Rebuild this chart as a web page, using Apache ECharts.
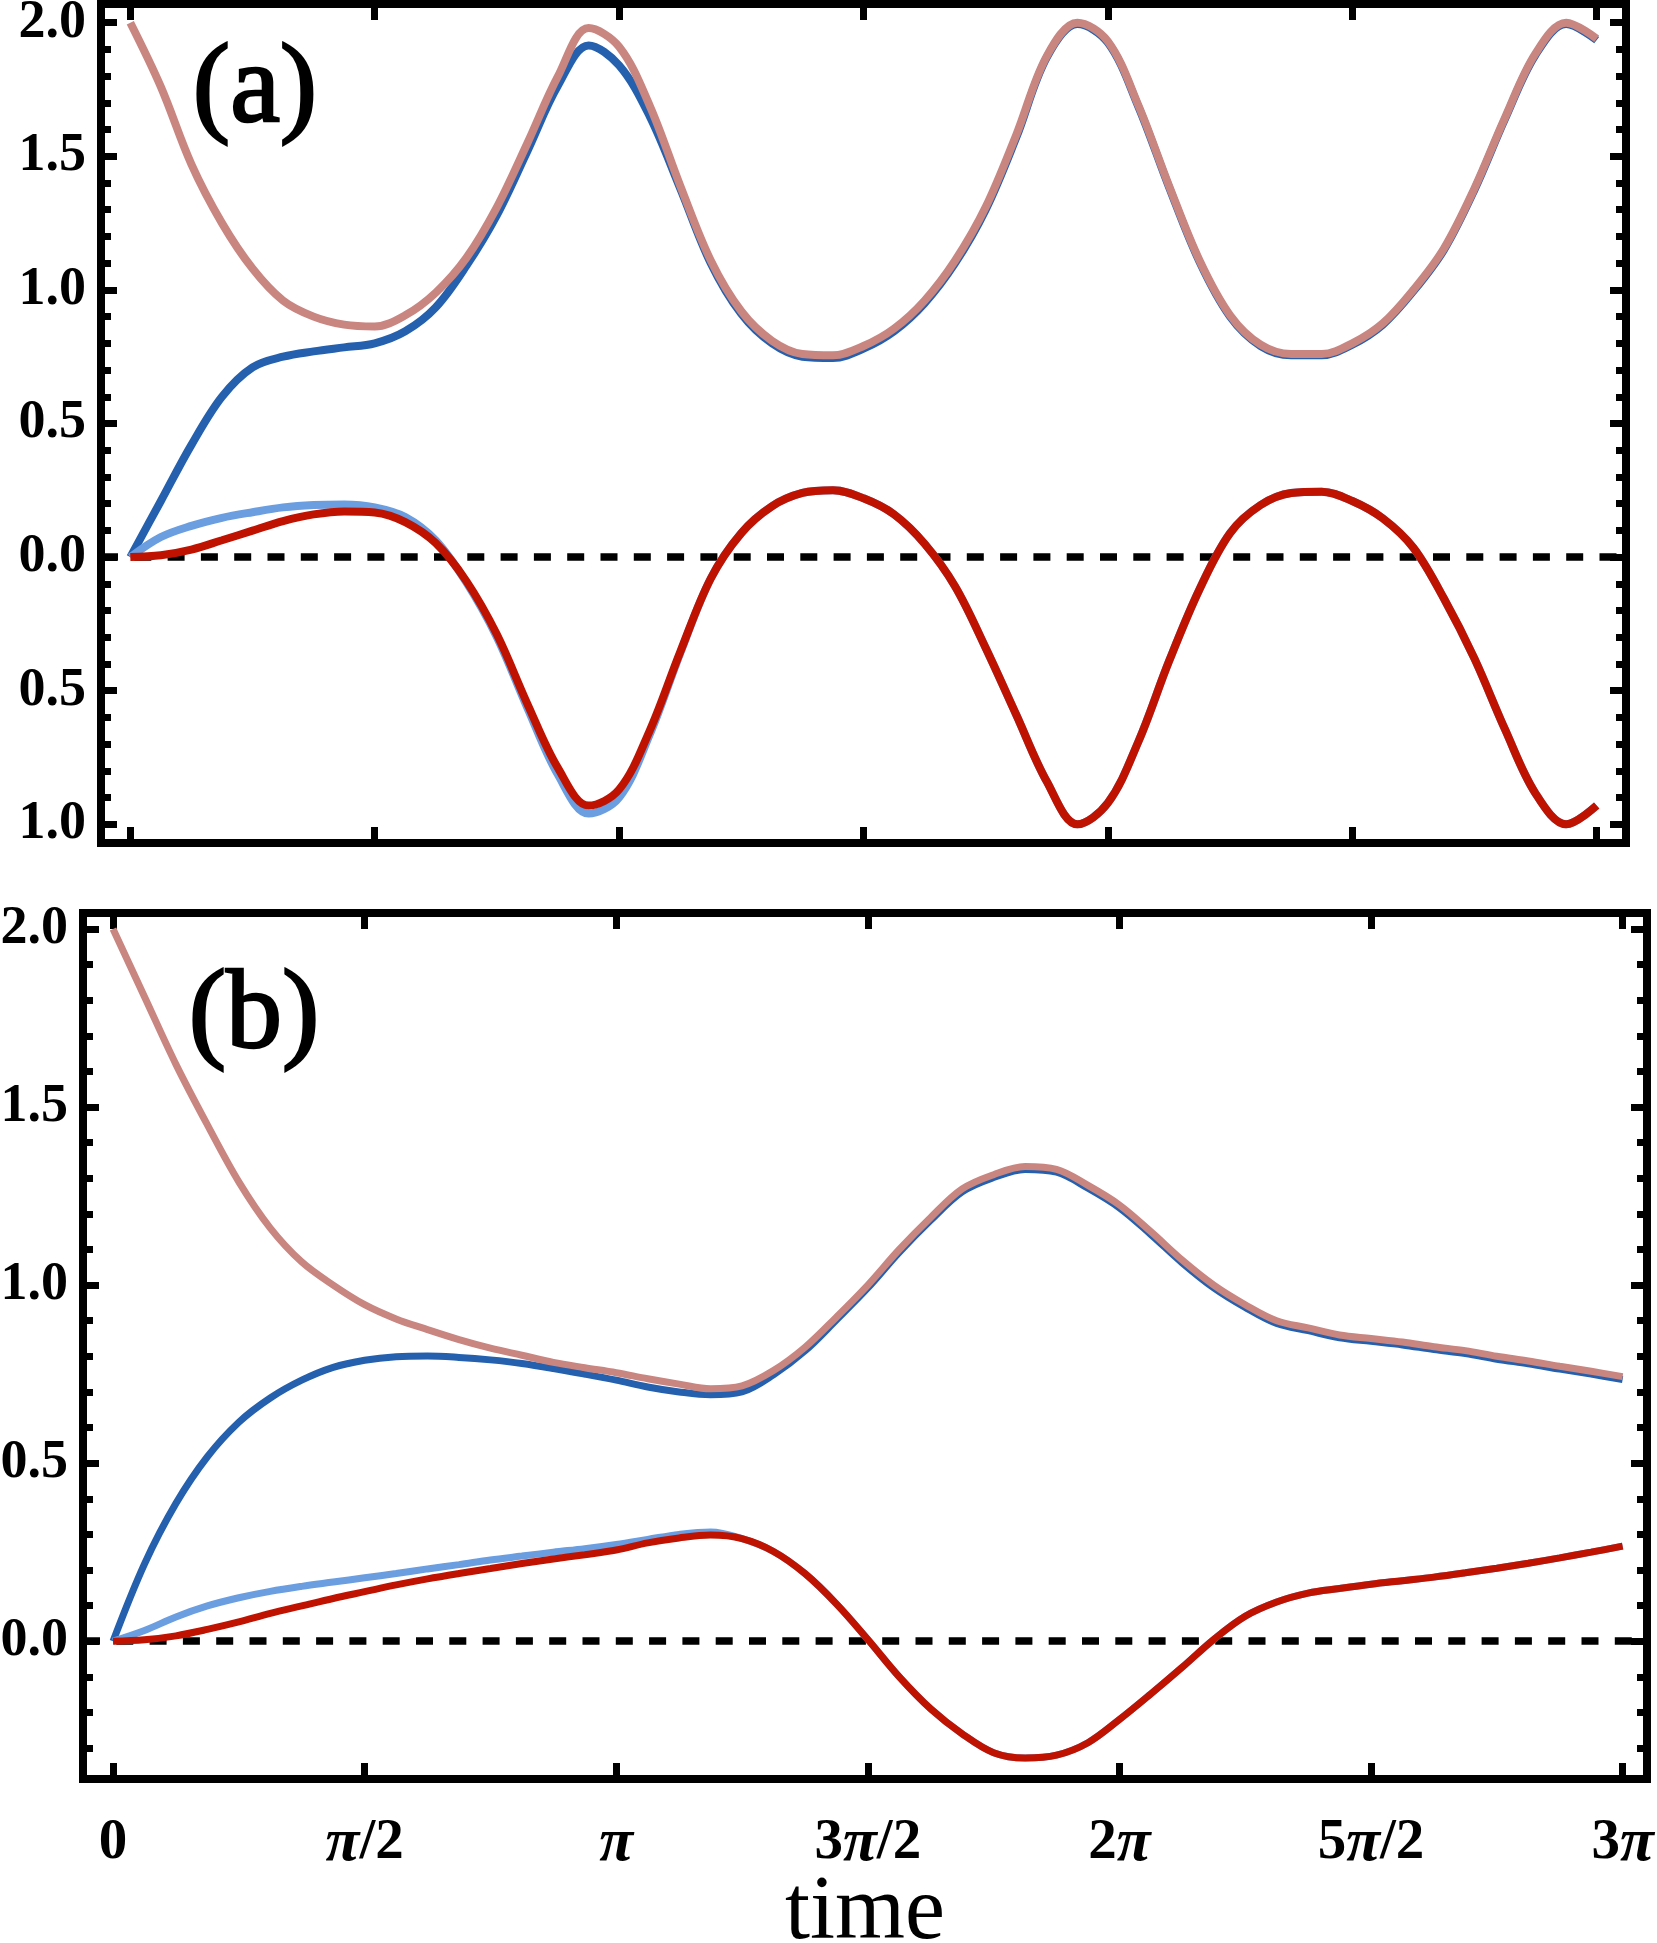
<!DOCTYPE html>
<html>
<head>
<meta charset="utf-8">
<title>time evolution</title>
<script src="https://cdn.jsdelivr.net/npm/echarts@6.0.0/dist/echarts.min.js"></script>
<style>
html, body { margin: 0; padding: 0; background: #fff; }
#main { width: 1657px; height: 1943px; }
</style>
</head>
<body>
<div id="main"></div>
<script>
// curves are sampled every pi/16 from 0 to 3pi (49 points)
var step = Math.PI / 16;

var xTickValues = [0, Math.PI / 2, Math.PI, 3 * Math.PI / 2, 2 * Math.PI, 5 * Math.PI / 2, 3 * Math.PI];
var xTickLabels = ['0', 'π/2', 'π', '3π/2', '2π', '5π/2', '3π'];

var yTicksA = [-1, -0.5, 0, 0.5, 1, 1.5, 2];
var yMinorA = [-1, -0.9, -0.8, -0.7, -0.6, -0.5, -0.4, -0.3, -0.2, -0.1, 0, 0.1, 0.2, 0.3, 0.4, 0.5,
    0.6, 0.7, 0.8, 0.9, 1, 1.1, 1.2, 1.3, 1.4, 1.5, 1.6, 1.7, 1.8, 1.9, 2];
var yTicksB = [0, 0.5, 1, 1.5, 2];
var yMinorB = [-0.3, -0.2, -0.1, 0, 0.1, 0.2, 0.3, 0.4, 0.5, 0.6, 0.7, 0.8, 0.9, 1, 1.1, 1.2,
    1.3, 1.4, 1.5, 1.6, 1.7, 1.8, 1.9, 2];

// panel (a)
var pinkA = [2.00, 1.76, 1.47, 1.25, 1.08, 0.96, 0.90, 0.87, 0.863, 0.905,
    0.99, 1.12, 1.31, 1.55, 1.80, 1.98, 1.91, 1.69, 1.39, 1.11,
    0.92, 0.81, 0.76, 0.755, 0.79, 0.855, 0.96, 1.11, 1.31, 1.58,
    1.875, 2.00, 1.93, 1.69, 1.39, 1.11, 0.905, 0.795, 0.76, 0.76,
    0.80, 0.875, 1.00, 1.155, 1.38, 1.645, 1.885, 2.00, 1.94];
var blueA = [0, 0.21, 0.42, 0.60, 0.71, 0.75, 0.77, 0.785, 0.80, 0.845,
    0.935, 1.09, 1.28, 1.52, 1.765, 1.915, 1.84, 1.65, 1.38, 1.10,
    0.91, 0.80, 0.75, 0.745, 0.78, 0.845, 0.95, 1.10, 1.30, 1.57,
    1.87, 1.995, 1.925, 1.685, 1.385, 1.105, 0.90, 0.79, 0.755, 0.755,
    0.795, 0.87, 0.995, 1.15, 1.375, 1.64, 1.88, 1.995, 1.935];
var lightA = [0, 0.075, 0.117, 0.147, 0.168, 0.186, 0.195, 0.197, 0.186, 0.15,
    0.062, -0.095, -0.30, -0.565, -0.815, -0.96, -0.90, -0.665, -0.36, -0.08,
    0.09, 0.19, 0.24, 0.25, 0.22, 0.16, 0.05, -0.11, -0.34, -0.59,
    -0.84, -1.00, -0.92, -0.69, -0.39, -0.12, 0.09, 0.195, 0.24, 0.245,
    0.21, 0.145, 0.035, -0.155, -0.38, -0.645, -0.885, -1.00, -0.93];
var redA = [0, 0.007, 0.028, 0.063, 0.099, 0.135, 0.16, 0.171, 0.167, 0.131,
    0.052, -0.09, -0.29, -0.55, -0.79, -0.93, -0.87, -0.65, -0.355, -0.08,
    0.09, 0.19, 0.24, 0.25, 0.22, 0.16, 0.05, -0.11, -0.34, -0.59,
    -0.84, -1.00, -0.92, -0.69, -0.39, -0.12, 0.09, 0.195, 0.24, 0.245,
    0.21, 0.145, 0.035, -0.155, -0.38, -0.645, -0.885, -1.00, -0.93];

// panel (b)
var pinkB = [2.00, 1.81, 1.62, 1.45, 1.29, 1.16, 1.065, 1.00, 0.945, 0.905,
    0.875, 0.847, 0.823, 0.803, 0.783, 0.768, 0.754, 0.737, 0.722, 0.709,
    0.717, 0.76, 0.825, 0.91, 1.00, 1.10, 1.19, 1.27, 1.31, 1.333,
    1.325, 1.28, 1.225, 1.15, 1.07, 1.00, 0.945, 0.90, 0.88, 0.86,
    0.85, 0.84, 0.827, 0.816, 0.80, 0.787, 0.772, 0.758, 0.743];
var blueB = [0, 0.217, 0.387, 0.518, 0.615, 0.683, 0.733, 0.769, 0.789, 0.799,
    0.801, 0.797, 0.79, 0.78, 0.766, 0.75, 0.733, 0.714, 0.70, 0.692,
    0.70, 0.748, 0.815, 0.902, 0.992, 1.092, 1.182, 1.262, 1.302, 1.325,
    1.317, 1.272, 1.217, 1.142, 1.062, 0.992, 0.937, 0.892, 0.872, 0.852,
    0.842, 0.832, 0.819, 0.808, 0.792, 0.779, 0.764, 0.75, 0.735];
var lightB = [0, 0.03, 0.068, 0.099, 0.122, 0.14, 0.154, 0.166, 0.178, 0.19,
    0.203, 0.215, 0.228, 0.239, 0.25, 0.26, 0.272, 0.286, 0.30, 0.307,
    0.288, 0.252, 0.19, 0.105, 0.005, -0.10, -0.19, -0.26, -0.313, -0.328,
    -0.32, -0.285, -0.22, -0.148, -0.073, 0.005, 0.07, 0.11, 0.135, 0.148,
    0.16, 0.17, 0.18, 0.192, 0.205, 0.219, 0.234, 0.25, 0.267];
var redB = [0, 0.004, 0.015, 0.033, 0.054, 0.078, 0.099, 0.12, 0.139, 0.158,
    0.175, 0.19, 0.204, 0.218, 0.231, 0.243, 0.256, 0.276, 0.29, 0.298,
    0.288, 0.252, 0.19, 0.105, 0.005, -0.10, -0.19, -0.26, -0.313, -0.328,
    -0.32, -0.285, -0.22, -0.148, -0.073, 0.005, 0.07, 0.11, 0.135, 0.148,
    0.16, 0.17, 0.18, 0.192, 0.205, 0.219, 0.234, 0.25, 0.267];

var serif = '"Liberation Serif", "Times New Roman", serif';
var tickStyle = {color: '#000', width: 7};

function pairs(vals) {
    var out = [];
    for (var i = 0; i < vals.length; i++) {
        out.push([i * step, vals[i]]);
    }
    return out;
}

function xLabel(v) {
    for (var i = 0; i < xTickValues.length; i++) {
        if (Math.abs(xTickValues[i] - v) < 1e-6) {
            return xTickLabels[i].replace('π', '{p|π}');
        }
    }
    return '';
}

// the minus signs are missing in the original, keep it that way
function yLabel(v) {
    return Math.abs(v).toFixed(1);
}

function xAxisFor(grid, position, extent, labels) {
    var axis = {
        type: 'value',
        gridIndex: grid,
        position: position,
        min: extent[0],
        max: extent[1],
        axisLine: {show: false, onZero: false},
        splitLine: {show: false},
        axisTick: {show: true, inside: true, length: 16, customValues: xTickValues, lineStyle: tickStyle},
        axisLabel: {show: false}
    };
    if (labels) {
        axis.axisLabel = {
            show: true,
            customValues: xTickValues,
            formatter: xLabel,
            margin: 36,
            color: '#000',
            fontFamily: serif,
            fontWeight: 'bold',
            fontSize: 57,
            lineHeight: 57,
            rich: {
                p: {fontFamily: serif, fontWeight: 'bold', fontStyle: 'italic', fontSize: 62, lineHeight: 57, color: '#000'}
            }
        };
    }
    return axis;
}

function yAxisFor(grid, position, extent, ticks, len, labels) {
    var axis = {
        type: 'value',
        gridIndex: grid,
        position: position,
        min: extent[0],
        max: extent[1],
        axisLine: {show: false, onZero: false},
        splitLine: {show: false},
        axisTick: {show: true, inside: true, length: len, customValues: ticks, lineStyle: tickStyle},
        axisLabel: {show: false}
    };
    if (labels) {
        axis.axisLabel = {
            show: true,
            customValues: ticks,
            formatter: yLabel,
            margin: 15,
            color: '#000',
            fontFamily: serif,
            fontWeight: 'bold',
            fontSize: 54
        };
    }
    return axis;
}

function curve(vals, color, width, xi, yi) {
    return {
        type: 'line',
        xAxisIndex: xi,
        yAxisIndex: yi,
        data: pairs(vals),
        symbol: 'none',
        showSymbol: false,
        smooth: 0.35,
        silent: true,
        lineStyle: {color: color, width: width}
    };
}

var zeroLine = {
    silent: true,
    z: 1,
    symbol: ['none', 'none'],
    label: {show: false},
    lineStyle: {color: '#000', width: 7.5, type: [17, 16.3]},
    data: [{yAxis: 0}]
};

var xExtA = [-0.1885, 9.6133], yExtA = [-1.07, 2.07];
var xExtB = [-0.1875, 9.577], yExtB = [-0.387, 2.045];

var frame = {show: true, borderWidth: 8, borderColor: '#000', backgroundColor: 'transparent',
    containLabel: false, outerBoundsMode: 'none'};

var bottomB = xAxisFor(1, 'bottom', xExtB, true);
bottomB.name = 'time';
bottomB.nameLocation = 'middle';
bottomB.nameGap = 90;
bottomB.nameMoveOverlap = false;
bottomB.nameTextStyle = {fontFamily: serif, fontSize: 90, lineHeight: 90, color: '#000'};

var seriesA = [
    curve(blueA, '#2460ae', 8, 0, 0),
    curve(lightA, '#6a9ee0', 8, 0, 0),
    curve(pinkA, '#c98580', 8, 0, 0),
    curve(redA, '#bf1200', 8, 0, 0)
];
seriesA[0].markLine = zeroLine;

var seriesB = [
    curve(blueB, '#2460ae', 7, 2, 4),
    curve(lightB, '#6a9ee0', 7, 2, 4),
    curve(pinkB, '#c98580', 7, 2, 4),
    curve(redB, '#bf1200', 7, 2, 4)
];
seriesB[0].markLine = zeroLine;

var panelLabel = {font: '112px ' + serif, fill: '#000', stroke: '#000', lineWidth: 2.5,
    textAlign: 'center', textVerticalAlign: 'middle'};

var chart = echarts.init(document.getElementById('main'));
var option = {
    animation: false,
    backgroundColor: '#fff',
    grid: [
        Object.assign({left: 101, top: 4, width: 1525, height: 839}, frame),
        Object.assign({left: 83, top: 913, width: 1564, height: 866}, frame)
    ],
    xAxis: [
        xAxisFor(0, 'bottom', xExtA, false),
        xAxisFor(0, 'top', xExtA, false),
        bottomB,
        xAxisFor(1, 'top', xExtB, false)
    ],
    yAxis: [
        yAxisFor(0, 'left', yExtA, yTicksA, 16, true),
        yAxisFor(0, 'left', yExtA, yMinorA, 10, false),
        yAxisFor(0, 'right', yExtA, yTicksA, 16, false),
        yAxisFor(0, 'right', yExtA, yMinorA, 10, false),
        yAxisFor(1, 'left', yExtB, yTicksB, 16, true),
        yAxisFor(1, 'left', yExtB, yMinorB, 10, false),
        yAxisFor(1, 'right', yExtB, yTicksB, 16, false),
        yAxisFor(1, 'right', yExtB, yMinorB, 10, false)
    ],
    graphic: [
        {type: 'text', x: 255, y: 92, style: Object.assign({text: '(a)'}, panelLabel)},
        {type: 'text', x: 254, y: 1018, style: Object.assign({text: '(b)'}, panelLabel)}
    ],
    series: seriesA.concat(seriesB)
};
chart.setOption(option);
</script>
</body>
</html>
